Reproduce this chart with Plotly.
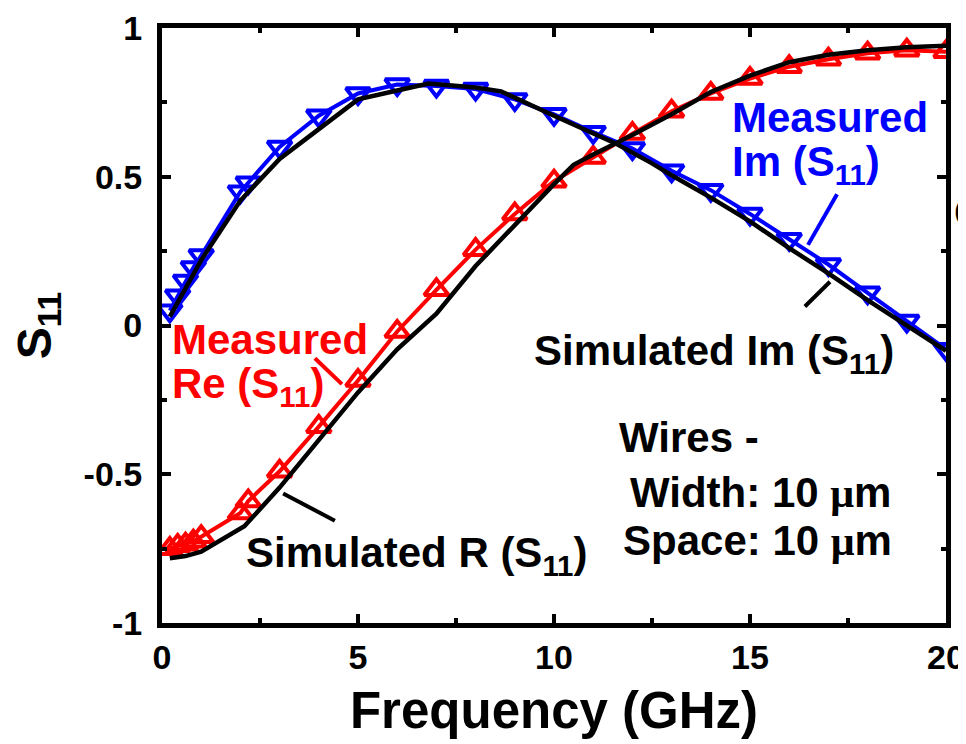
import plotly.graph_objects as go

# ---------------- data ----------------
freq_meas = [0.2, 0.4, 0.6, 0.8, 1.0, 2.0, 2.2, 3, 4, 5, 6, 7, 8, 9, 10,
             11, 12, 13, 14, 15, 16, 17, 18, 19, 20]
re_meas = [-0.75, -0.74, -0.735, -0.725, -0.71, -0.63, -0.59, -0.49, -0.34,
           -0.185, -0.02, 0.12, 0.255, 0.375, 0.485, 0.565, 0.645, 0.72,
           0.78, 0.83, 0.87, 0.895, 0.915, 0.925, 0.92]
im_meas = [0.05, 0.10, 0.15, 0.195, 0.235, 0.45, 0.48, 0.60, 0.705, 0.78,
           0.81, 0.805, 0.795, 0.76, 0.71, 0.65, 0.595, 0.52, 0.455, 0.375,
           0.29, 0.205, 0.11, 0.015, -0.08]

freq_sim_re = [0.2, 0.6, 1, 1.5, 2.1, 3, 4, 5, 6, 7, 8, 9, 10, 10.5, 11,
               12, 13, 14, 15, 16, 17, 18, 19, 20]
sim_re = [-0.782, -0.775, -0.76, -0.72, -0.675, -0.545, -0.385, -0.225,
          -0.08, 0.04, 0.2, 0.34, 0.475, 0.54, 0.575, 0.64, 0.71, 0.785,
          0.84, 0.885, 0.91, 0.925, 0.935, 0.94]

freq_sim_im = [0.2, 1, 2, 3, 4, 5, 6, 6.8, 8, 8.65, 10, 11, 11.6, 12.5, 13,
               14, 15, 16, 17, 18, 19, 20]
sim_im = [0.03, 0.22, 0.42, 0.56, 0.66, 0.76, 0.79, 0.813, 0.80, 0.787,
          0.705, 0.645, 0.61, 0.545, 0.505, 0.43, 0.35, 0.26, 0.175, 0.085,
          0.0, -0.085]

x_tickvals = [0, 5, 10, 15, 20]
x_ticktext = ["0", "5", "10", "15", "20"]
y_tickvals = [-1, -0.5, 0, 0.5, 1]
y_ticktext = ["-1", "-0.5", "0", "0.5", "1"]

RED = "#ff0000"
BLUE = "#0000ff"
FONT = "Liberation Sans, Arial, sans-serif"
MU = "<span style=\"font-family:'Liberation Serif', serif\">μ</span>"

fig = go.Figure()

fig.add_trace(go.Scatter(
    x=freq_meas, y=re_meas, mode="lines+markers", name="Measured Re",
    line=dict(color=RED, width=4),
    marker=dict(symbol="triangle-up-open", size=21, color=RED,
                line=dict(color=RED, width=4))))
fig.add_trace(go.Scatter(
    x=freq_meas, y=im_meas, mode="lines+markers", name="Measured Im",
    line=dict(color=BLUE, width=4),
    marker=dict(symbol="triangle-down-open", size=21, color=BLUE,
                line=dict(color=BLUE, width=4))))
fig.add_trace(go.Scatter(
    x=freq_sim_re, y=sim_re, mode="lines", name="Simulated Re",
    line=dict(color="black", width=4.5)))
fig.add_trace(go.Scatter(
    x=freq_sim_im, y=sim_im, mode="lines", name="Simulated Im",
    line=dict(color="black", width=4.5)))

ann_font = dict(family=FONT, size=42, weight="bold")


def label(x, y, text, color):
    fig.add_annotation(x=x, y=y, xref="x", yref="y", text=text,
                       showarrow=False, xanchor="left", yanchor="middle",
                       font=dict(ann_font, color=color))


label(14.5, 0.70, "Measured", BLUE)
label(14.5, 0.54, "Im (S<sub>11</sub>)", BLUE)
label(9.45, -0.094, "Simulated Im (S<sub>11</sub>)", "black")
label(0.2, -0.047, "Measured", RED)
label(0.2, -0.204, "Re (S<sub>11</sub>)", RED)
label(2.1, -0.773, "Simulated R (S<sub>11</sub>)", "black")
label(11.6, -0.378, "Wires -", "black")
label(11.9, -0.562, "Width: 10 " + MU + "m", "black")
label(11.72, -0.722, "Space: 10 " + MU + "m", "black")

fig.add_annotation(x=1.008, y=0.69, xref="paper", yref="paper", text="C",
                   showarrow=False, xanchor="left", yanchor="middle",
                   font=dict(ann_font, color="black"))

# pointer lines
for (x0, y0, x1, y1, c) in [(17.22, 0.441, 16.48, 0.271, BLUE),
                            (17.04, 0.147, 16.40, 0.064, "black"),
                            (3.90, -0.11, 4.59, -0.197, RED),
                            (3.09, -0.565, 4.41, -0.656, "black")]:
    fig.add_shape(type="line", xref="x", yref="y", x0=x0, y0=y0, x1=x1,
                  y1=y1, line=dict(color=c, width=4))

axis_common = dict(showline=True, linecolor="black", linewidth=5,
                   mirror="ticks", ticks="inside", tickcolor="black",
                   tickwidth=4, ticklen=9, showgrid=False, zeroline=False,
                   automargin=False,
                   tickfont=dict(family=FONT, size=34, color="black",
                                 weight="bold"))

fig.update_xaxes(axis_common, range=[0, 20], tickvals=x_tickvals,
                 ticktext=x_ticktext, ticklabelstandoff=0,
                 minor=dict(ticks="inside", ticklen=5, tickwidth=4,
                            tickcolor="black", dtick=2.5, tick0=0),
                 title=dict(text="Frequency (GHz)", standoff=19,
                            font=dict(family=FONT, size=51, color="black",
                                      weight="bold")))
fig.update_yaxes(axis_common, range=[-1, 1], tickvals=y_tickvals,
                 ticktext=y_ticktext, ticklabelstandoff=8,
                 minor=dict(ticks="inside", ticklen=5, tickwidth=4,
                            tickcolor="black", dtick=0.25, tick0=0),
                 title=dict(text="S<sub>11</sub>", standoff=32,
                            font=dict(family=FONT, size=48, color="black",
                                      weight="bold")))

fig.update_layout(width=966, height=744, showlegend=False,
                  paper_bgcolor="white", plot_bgcolor="white",
                  margin=dict(l=154, r=28, t=20, b=129),
                  font=dict(family=FONT, color="black"))

fig.write_html("out.html")
